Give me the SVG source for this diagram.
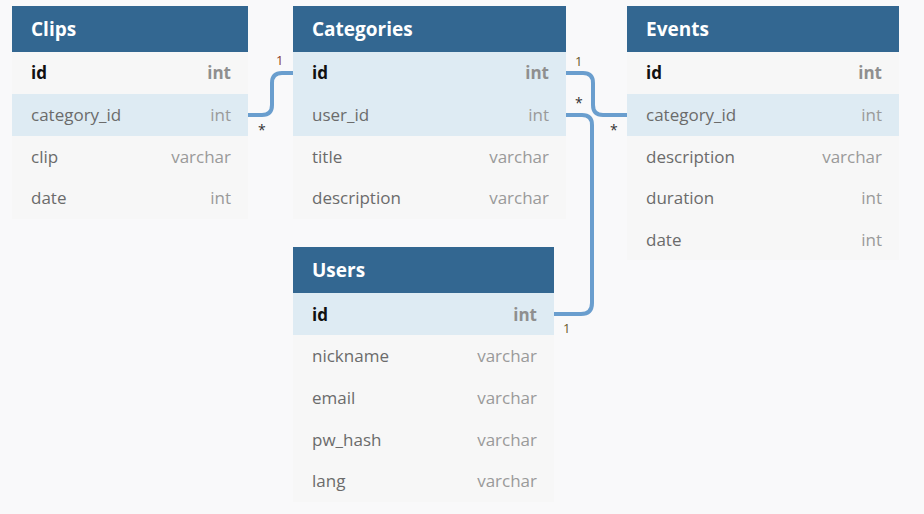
<svg xmlns="http://www.w3.org/2000/svg" width="924" height="514" viewBox="0 0 924 514">
<style>
.bg{fill:#f9f9fa}
.hd{fill:#336791}
.hl{fill:#ffffff;font-family:"Open Sans",sans-serif;font-size:19px;font-weight:bold}
.r{fill:#f7f7f7}
.rb{fill:#deebf3}
.f{fill:#6b6b6b;font-family:"Open Sans",sans-serif;font-size:17px}
.fk{fill:#111;font-family:"Open Sans",sans-serif;font-size:17px;font-weight:bold}
.t{fill:#9a9a9a;font-family:"Open Sans",sans-serif;font-size:17px;text-anchor:end}
.tk{fill:#8f8f8f;font-family:"Open Sans",sans-serif;font-size:17px;font-weight:bold;text-anchor:end}
.c{fill:none;stroke:#6a9ece;stroke-width:4}
.one{fill:#8b3a2a;font-family:"Open Sans",sans-serif;font-size:13px}
.one2{fill:#6b5a2a;font-family:"Open Sans",sans-serif;font-size:13px}
.many{fill:#333;font-family:"Open Sans",sans-serif;font-size:14px}
</style>
<rect class="bg" x="0" y="0" width="924" height="514"/>
<g id="connectors">
<path class="c" d="M248,115 H262 Q272,115 272,105 V83 Q272,73 282,73 H293"/>
<path class="c" d="M566,73 H583 Q593,73 593,83 V105 Q593,115 603,115 H627"/>
<path class="c" d="M566,115 H582 Q592,115 592,125 V303 Q592,314 581,314 H554"/>
<text class="one" x="276" y="65">1</text>
<text class="many" x="258" y="135">*</text>
<text class="one2" x="575" y="66">1</text>
<text class="many" x="575" y="108">*</text>
<text class="many" x="610" y="135">*</text>
<text class="one2" x="563" y="333">1</text>
</g>
<g id="clips">
<rect class="hd" x="12" y="6" width="236" height="46"/>
<text class="hl" x="31" y="36">Clips</text>
<rect class="r" x="12" y="52" width="236" height="42"/>
<rect class="rb" x="12" y="94" width="236" height="42"/>
<rect class="r" x="12" y="136" width="236" height="42"/>
<rect class="r" x="12" y="178" width="236" height="41"/>
<text class="fk" x="31" y="79">id</text><text class="tk" x="231" y="79">int</text>
<text class="f" x="31" y="121">category_id</text><text class="t" x="231" y="121">int</text>
<text class="f" x="31" y="163">clip</text><text class="t" x="231" y="163">varchar</text>
<text class="f" x="31" y="204">date</text><text class="t" x="231" y="204">int</text>
</g>
<g id="categories">
<rect class="hd" x="293" y="6" width="273" height="46"/>
<text class="hl" x="312" y="36">Categories</text>
<rect class="rb" x="293" y="52" width="273" height="42"/>
<rect class="rb" x="293" y="94" width="273" height="42"/>
<rect class="r" x="293" y="136" width="273" height="42"/>
<rect class="r" x="293" y="178" width="273" height="41"/>
<text class="fk" x="312" y="79">id</text><text class="tk" x="549" y="79">int</text>
<text class="f" x="312" y="121">user_id</text><text class="t" x="549" y="121">int</text>
<text class="f" x="312" y="163">title</text><text class="t" x="549" y="163">varchar</text>
<text class="f" x="312" y="204">description</text><text class="t" x="549" y="204">varchar</text>
</g>
<g id="events">
<rect class="hd" x="627" y="6" width="272" height="46"/>
<text class="hl" x="646" y="36">Events</text>
<rect class="r" x="627" y="52" width="272" height="42"/>
<rect class="rb" x="627" y="94" width="272" height="42"/>
<rect class="r" x="627" y="136" width="272" height="42"/>
<rect class="r" x="627" y="178" width="272" height="42"/>
<rect class="r" x="627" y="220" width="272" height="40"/>
<text class="fk" x="646" y="79">id</text><text class="tk" x="882" y="79">int</text>
<text class="f" x="646" y="121">category_id</text><text class="t" x="882" y="121">int</text>
<text class="f" x="646" y="163">description</text><text class="t" x="882" y="163">varchar</text>
<text class="f" x="646" y="204">duration</text><text class="t" x="882" y="204">int</text>
<text class="f" x="646" y="246">date</text><text class="t" x="882" y="246">int</text>
</g>
<g id="users">
<rect class="hd" x="293" y="247" width="261" height="46"/>
<text class="hl" x="312" y="277">Users</text>
<rect class="rb" x="293" y="293" width="261" height="42"/>
<rect class="r" x="293" y="335" width="261" height="42"/>
<rect class="r" x="293" y="377" width="261" height="42"/>
<rect class="r" x="293" y="419" width="261" height="42"/>
<rect class="r" x="293" y="461" width="261" height="41"/>
<text class="fk" x="312" y="321">id</text><text class="tk" x="537" y="321">int</text>
<text class="f" x="312" y="362">nickname</text><text class="t" x="537" y="362">varchar</text>
<text class="f" x="312" y="404">email</text><text class="t" x="537" y="404">varchar</text>
<text class="f" x="312" y="446">pw_hash</text><text class="t" x="537" y="446">varchar</text>
<text class="f" x="312" y="487">lang</text><text class="t" x="537" y="487">varchar</text>
</g>
</svg>
